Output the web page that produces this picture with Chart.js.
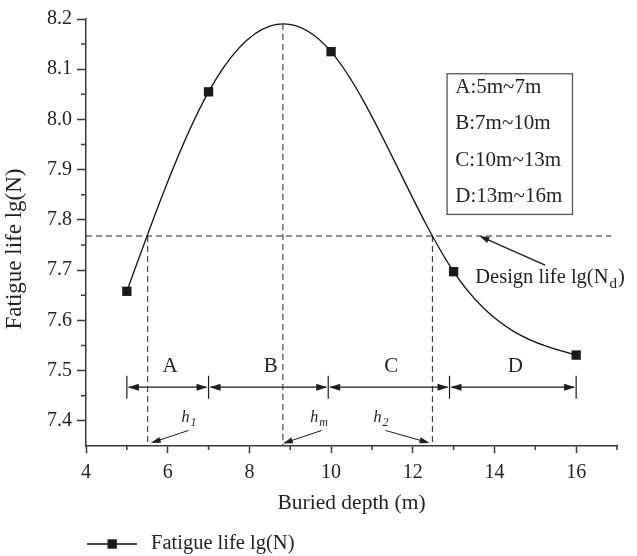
<!DOCTYPE html>
<html>
<head>
<meta charset="utf-8">
<script src="https://cdn.jsdelivr.net/npm/chart.js@4.4.1/dist/chart.umd.min.js"></script>
<style>
  html, body { margin: 0; padding: 0; background: #fff; }
</style>
</head>
<body>
<canvas id="chart" width="637" height="556"></canvas>
<script>
// ===============================
// DATA
// ===============================
const depth = [5, 7, 10, 13, 16];
const fatigueLife = [7.658, 8.055, 8.135, 7.697, 7.531];

const xTicks = [4, 6, 8, 10, 12, 14, 16];
const yTicks = [7.4, 7.5, 7.6, 7.7, 7.8, 7.9, 8.0, 8.1, 8.2];

const designLife = 7.768;
const crossDepths = [5.51, 12.48];   // curve meets the design life
const peakDepth = 8.82;
const peakLife = 8.19;

const zoneEdges = [5, 7, 9.93, 12.9, 16];
const zoneNames = ["A", "B", "C", "D"];
const zoneRanges = ["A:5m~7m", "B:7m~10m", "C:10m~13m", "D:13m~16m"];

// ===============================
// STYLE
// ===============================
const FONT = "'Liberation Serif', 'Times New Roman', serif";
const INK = "#231f20";
const AXIS = "#3a3a3a";

// ===============================
// HELPERS
// ===============================
function splineSlopes(xs, ys) {
  // natural cubic spline, first derivative at each knot
  const n = xs.length;
  const h = [], s = [];
  for (let i = 0; i < n - 1; i++) {
    h.push(xs[i + 1] - xs[i]);
    s.push((ys[i + 1] - ys[i]) / h[i]);
  }
  const a = [], b = [], c = [], d = [];
  for (let i = 1; i < n - 1; i++) {
    a.push(h[i - 1]);
    b.push(2 * (h[i - 1] + h[i]));
    c.push(h[i]);
    d.push(6 * (s[i] - s[i - 1]));
  }
  const m = b.length;
  for (let i = 1; i < m; i++) {
    const w = a[i] / b[i - 1];
    b[i] -= w * c[i - 1];
    d[i] -= w * d[i - 1];
  }
  const sol = new Array(m);
  sol[m - 1] = d[m - 1] / b[m - 1];
  for (let i = m - 2; i >= 0; i--) sol[i] = (d[i] - c[i] * sol[i + 1]) / b[i];
  const M = [0, ...sol, 0];
  const D = [];
  for (let i = 0; i < n - 1; i++) D.push(s[i] - h[i] * (2 * M[i] + M[i + 1]) / 6);
  D.push(s[n - 2] + h[n - 2] * (M[n - 2] + 2 * M[n - 1]) / 6);
  return D;
}

function arrowHead(ctx, x1, y1, x2, y2, len, half) {
  const ang = Math.atan2(y2 - y1, x2 - x1);
  ctx.beginPath();
  ctx.moveTo(x2, y2);
  ctx.lineTo(x2 - len * Math.cos(ang) + half * Math.sin(ang), y2 - len * Math.sin(ang) - half * Math.cos(ang));
  ctx.lineTo(x2 - len * Math.cos(ang) - half * Math.sin(ang), y2 - len * Math.sin(ang) + half * Math.cos(ang));
  ctx.closePath();
  ctx.fill();
}

function arrow(ctx, x1, y1, x2, y2, len, half) {
  const ang = Math.atan2(y2 - y1, x2 - x1);
  ctx.beginPath();
  ctx.moveTo(x1, y1);
  ctx.lineTo(x2 - (len - 1) * Math.cos(ang), y2 - (len - 1) * Math.sin(ang));
  ctx.stroke();
  arrowHead(ctx, x1, y1, x2, y2, len, half);
}

// text with a subscript part
function subText(ctx, x, y, main, sub, size, subSize, italic) {
  const st = italic ? "italic " : "";
  ctx.font = `${st}${size}px ${FONT}`;
  ctx.fillText(main, x, y);
  const w = ctx.measureText(main).width;
  ctx.font = `${st}${subSize}px ${FONT}`;
  ctx.fillText(sub, x + w + 1, y + size * 0.25);
  return x + w + 1 + ctx.measureText(sub).width;
}

// ===============================
// PLUGIN: curve + annotations
// ===============================
const decorations = {
  id: "decorations",
  beforeDatasetsDraw(chart) {
    const { ctx, scales: { x, y } } = chart;
    const px = v => x.getPixelForValue(v);
    const py = v => y.getPixelForValue(v);
    ctx.save();

    // minor ticks
    ctx.strokeStyle = AXIS;
    ctx.lineWidth = 1.5;
    ctx.beginPath();
    for (let v = 5; v <= 17; v += 2) {
      ctx.moveTo(px(v), y.bottom);
      ctx.lineTo(px(v), y.bottom + 4);
    }
    for (let v = 7.45; v < 8.2; v += 0.1) {
      ctx.moveTo(x.left - 5, py(v));
      ctx.lineTo(x.left, py(v));
    }
    ctx.stroke();

    // dashed reference lines
    ctx.strokeStyle = "#222";
    ctx.lineWidth = 1;
    ctx.setLineDash([6, 4]);
    ctx.beginPath();
    ctx.moveTo(x.left, py(designLife));
    ctx.lineTo(px(16.86), py(designLife));
    crossDepths.forEach(d => {
      ctx.moveTo(px(d), py(designLife));
      ctx.lineTo(px(d), y.bottom);
    });
    ctx.moveTo(px(peakDepth), py(peakLife));
    ctx.lineTo(px(peakDepth), y.bottom);
    ctx.stroke();
    ctx.setLineDash([]);

    // smooth curve through the measured points
    const D = splineSlopes(depth, fatigueLife);
    ctx.strokeStyle = "#111";
    ctx.lineWidth = 1.3;
    ctx.beginPath();
    ctx.moveTo(px(depth[0]), py(fatigueLife[0]));
    for (let i = 0; i < depth.length - 1; i++) {
      const hh = depth[i + 1] - depth[i];
      ctx.bezierCurveTo(
        px(depth[i] + hh / 3), py(fatigueLife[i] + D[i] * hh / 3),
        px(depth[i + 1] - hh / 3), py(fatigueLife[i + 1] - D[i + 1] * hh / 3),
        px(depth[i + 1]), py(fatigueLife[i + 1])
      );
    }
    ctx.stroke();
    ctx.restore();
  },

  afterDraw(chart) {
    const { ctx, chartArea, scales: { x, y } } = chart;
    const px = v => x.getPixelForValue(v);
    const py = v => y.getPixelForValue(v);
    ctx.save();
    ctx.fillStyle = INK;
    ctx.strokeStyle = "#1a1a1a";
    ctx.lineWidth = 1.2;

    // zone dimension line
    const dimY = py(7.467);
    ctx.beginPath();
    zoneEdges.forEach(e => {
      ctx.moveTo(px(e), py(7.49));
      ctx.lineTo(px(e), py(7.444));
    });
    ctx.stroke();
    for (let i = 0; i < zoneNames.length; i++) {
      const a = px(zoneEdges[i]), b = px(zoneEdges[i + 1]);
      ctx.beginPath();
      ctx.moveTo(a + 2, dimY);
      ctx.lineTo(b - 2, dimY);
      ctx.stroke();
      arrowHead(ctx, b, dimY, a + 1, dimY, 11, 3.5);
      arrowHead(ctx, a, dimY, b - 1, dimY, 11, 3.5);
    }
    ctx.font = `21px ${FONT}`;
    ctx.textAlign = "center";
    ctx.textBaseline = "middle";
    zoneNames.forEach((n, i) => {
      const mid = (zoneEdges[i] + zoneEdges[i + 1]) / 2 + 0.06;
      ctx.fillText(n, px(mid), py(7.508));
    });

    // zone range box
    ctx.strokeStyle = "#555";
    ctx.lineWidth = 1.3;
    ctx.strokeRect(px(12.84), py(8.091), px(15.91) - px(12.84), py(7.811) - py(8.091));
    ctx.textAlign = "left";
    ctx.font = `21px ${FONT}`;
    zoneRanges.forEach((t, i) => {
      ctx.fillText(t, px(13.04), py(8.064 - i * 0.0727));
    });

    // design life note
    ctx.strokeStyle = "#1a1a1a";
    ctx.lineWidth = 1.2;
    arrow(ctx, px(15.24), py(7.710), px(13.63), py(designLife), 10, 3.2);
    ctx.textBaseline = "alphabetic";
    const endX = subText(ctx, px(13.53), py(7.674), "Design life lg(N", "d", 20.5, 15, false);
    ctx.font = `20.5px ${FONT}`;
    ctx.fillText(")", endX + 1, py(7.674));

    // h labels
    const hLabels = [
      { sub: "1", at: 6.34, from: [6.51, 7.381], to: [5.585, 7.356] },
      { sub: "m", at: 9.49, from: [9.77, 7.381], to: [8.82, 7.355] },
      { sub: "2", at: 11.04, from: [11.33, 7.381], to: [12.41, 7.356] }
    ];
    ctx.lineWidth = 1;
    hLabels.forEach(h => {
      subText(ctx, px(h.at), py(7.398), "h", h.sub, 16, 12, true);
      arrow(ctx, px(h.from[0]), py(h.from[1]), px(h.to[0]), py(h.to[1]), 10, 3);
    });

    // axis titles
    ctx.textAlign = "center";
    ctx.textBaseline = "middle";
    ctx.font = `21.5px ${FONT}`;
    ctx.fillText("Buried depth (m)", (chartArea.left + chartArea.right) / 2, 503);
    ctx.save();
    ctx.translate(15, 249);
    ctx.rotate(-Math.PI / 2);
    ctx.font = `23px ${FONT}`;
    ctx.fillText("Fatigue life lg(N)", 0, 0);
    ctx.restore();

    // legend
    const ly = 544;
    ctx.strokeStyle = "#111";
    ctx.lineWidth = 1.3;
    ctx.beginPath();
    ctx.moveTo(chartArea.left + 1, ly);
    ctx.lineTo(chartArea.left + 51, ly);
    ctx.stroke();
    ctx.fillStyle = "#1a1a1a";
    ctx.fillRect(chartArea.left + 21.5, ly - 4.7, 9.4, 9.4);
    ctx.fillStyle = INK;
    ctx.textAlign = "left";
    ctx.font = `20.5px ${FONT}`;
    ctx.fillText("Fatigue life lg(N)", chartArea.left + 65, ly);
    ctx.restore();
  }
};

// ===============================
// CHART
// ===============================
new Chart(document.getElementById("chart"), {
  type: "scatter",
  data: {
    datasets: [{
      label: "Fatigue life lg(N)",
      data: depth.map((d, i) => ({ x: d, y: fatigueLife[i] })),
      showLine: false,
      pointStyle: "rect",
      pointRadius: 6.6,
      pointHoverRadius: 6.6,
      backgroundColor: "#1a1a1a",
      borderWidth: 0
    }]
  },
  options: {
    responsive: false,
    animation: false,
    layout: { padding: { top: 19, right: 20, left: 0, bottom: 0 } },
    plugins: {
      legend: { display: false },
      tooltip: { enabled: false }
    },
    scales: {
      x: {
        type: "linear",
        min: 4,
        max: 17,
        afterBuildTicks: s => { s.ticks = xTicks.map(v => ({ value: v })); },
        afterFit: s => { s.height = 110; },
        grid: { drawOnChartArea: false, tickLength: 7, tickColor: AXIS, tickWidth: 1.5 },
        border: { color: AXIS, width: 1.5 },
        ticks: { padding: 8, color: INK, font: { family: FONT, size: 20 } }
      },
      y: {
        min: 7.35,
        max: 8.2,
        afterBuildTicks: s => { s.ticks = yTicks.map(v => ({ value: v })); },
        afterFit: s => { s.width = 86; },
        grid: { drawOnChartArea: false, tickLength: 9, tickColor: AXIS, tickWidth: 1.5 },
        border: { color: AXIS, width: 1.5 },
        ticks: {
          padding: 5,
          color: INK,
          font: { family: FONT, size: 20 },
          callback: v => v.toFixed(1)
        }
      }
    }
  },
  plugins: [decorations]
});
</script>
</body>
</html>
